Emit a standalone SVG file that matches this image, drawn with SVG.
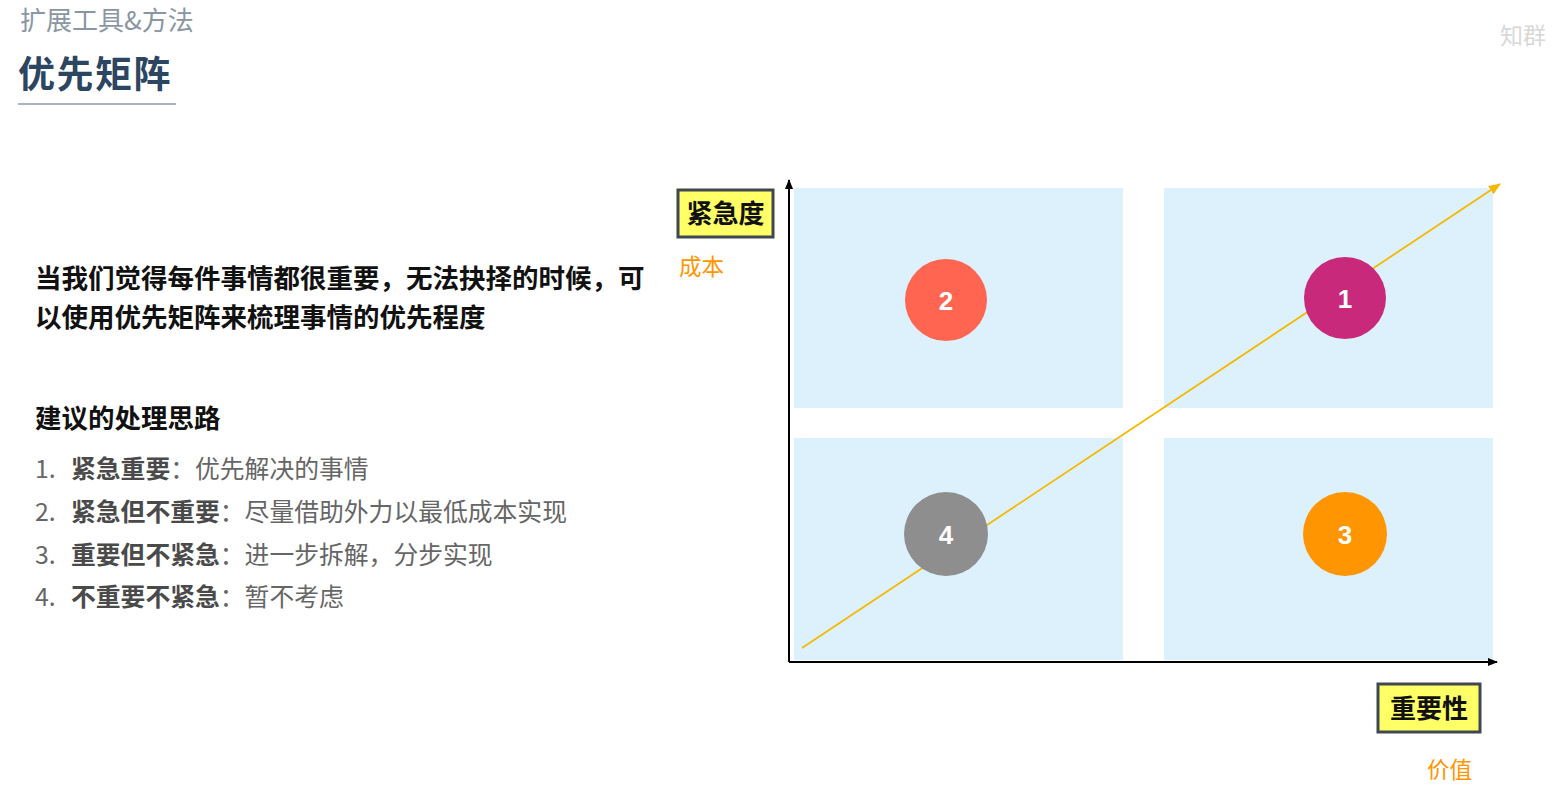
<svg xmlns="http://www.w3.org/2000/svg" width="1552" height="792" viewBox="0 0 1552 792">
<style>
.cjk{font-family:"Noto Sans CJK SC","Noto Sans",sans-serif}
.q{fill:#DDF1FD}
.lab{fill:#FFFF66;stroke:#3F4852;stroke-width:3}
.labt{font-family:"Noto Sans CJK SC",sans-serif;font-size:26px;font-weight:bold;fill:#111}
.num{font-family:"Liberation Sans",Arial,sans-serif;font-size:26px;font-weight:bold;fill:#fff}
.li{font-family:"Noto Sans CJK SC",sans-serif;font-size:24.8px;fill:#666}
.lib{font-weight:bold;fill:#4a4a4a}
.orange{font-family:"Noto Sans CJK SC",sans-serif;font-size:22.5px;fill:#FF9500}
</style>
<defs>
<marker id="ab" markerWidth="10" markerHeight="10" refX="9" refY="5" orient="auto" markerUnits="userSpaceOnUse"><path d="M0,1 L10,5 L0,9 Z" fill="#000"/></marker>
<marker id="ao" markerWidth="12" markerHeight="12" refX="11" refY="6" orient="auto" markerUnits="userSpaceOnUse"><path d="M0,1 L12,6 L0,11 Z" fill="#F5B800"/></marker>
</defs>
<g id="header">
<text x="20" y="30" class="cjk" font-size="26" fill="#8A96A3">扩展工具&amp;方法</text>
<text x="18" y="88" class="cjk" font-size="37" font-weight="bold" fill="#2C4560" letter-spacing="1.5">优先矩阵</text>
<line x1="18" y1="104" x2="176" y2="104" stroke="#8A9BB0" stroke-width="1.5"/>
<text x="1500" y="44" class="cjk" font-size="23" fill="#D8D8D8">知群</text>
</g>
<g id="intro">
<text x="35" y="288" class="cjk" font-size="26.5" font-weight="bold" fill="#111">当我们觉得每件事情都很重要，无法抉择的时候，可</text>
<text x="35" y="327" class="cjk" font-size="26.5" font-weight="bold" fill="#111">以使用优先矩阵来梳理事情的优先程度</text>
</g>
<g id="suggest">
<text x="35" y="428" class="cjk" font-size="26.5" font-weight="bold" fill="#111">建议的处理思路</text>
<text x="35" y="478" class="li">1.<tspan x="71" class="lib">紧急重要</tspan>：优先解决的事情</text>
<text x="35" y="521" class="li">2.<tspan x="71" class="lib">紧急但不重要</tspan>：尽量借助外力以最低成本实现</text>
<text x="35" y="564" class="li">3.<tspan x="71" class="lib">重要但不紧急</tspan>：进一步拆解，分步实现</text>
<text x="35" y="606" class="li">4.<tspan x="71" class="lib">不重要不紧急</tspan>：暂不考虑</text>
</g>
<g id="quadrants">
<rect class="q" x="794" y="188" width="329" height="220"/>
<rect class="q" x="1164" y="188" width="329" height="220"/>
<rect class="q" x="794" y="438" width="329" height="222"/>
<rect class="q" x="1164" y="438" width="329" height="222"/>
</g>
<g id="connectors">
<line x1="789" y1="662" x2="789" y2="180" stroke="#000" stroke-width="2" marker-end="url(#ab)"/>
<line x1="789" y1="662" x2="1497" y2="662" stroke="#000" stroke-width="2" marker-end="url(#ab)"/>
<line x1="802" y1="648" x2="1500" y2="184" stroke="#F5B800" stroke-width="1.8" marker-end="url(#ao)"/>
</g>
<g id="node-2"><circle cx="946" cy="300" r="41" fill="#FF6550"/><text x="946" y="310" text-anchor="middle" class="num">2</text></g>
<g id="node-1"><circle cx="1345" cy="298" r="41" fill="#C8297A"/><text x="1345" y="308" text-anchor="middle" class="num">1</text></g>
<g id="node-4"><circle cx="946" cy="534" r="42" fill="#8E8E8E"/><text x="946" y="544" text-anchor="middle" class="num">4</text></g>
<g id="node-3"><circle cx="1345" cy="534" r="42" fill="#FF9500"/><text x="1345" y="544" text-anchor="middle" class="num">3</text></g>
<g id="label-urgency">
<rect class="lab" x="678" y="190" width="95" height="47"/>
<text x="725.5" y="223" text-anchor="middle" class="labt">紧急度</text>
<text x="679" y="275" class="orange">成本</text>
</g>
<g id="label-importance">
<rect class="lab" x="1378" y="684" width="102" height="48"/>
<text x="1429" y="718" text-anchor="middle" class="labt">重要性</text>
<text x="1427" y="778" class="orange">价值</text>
</g>
</svg>
